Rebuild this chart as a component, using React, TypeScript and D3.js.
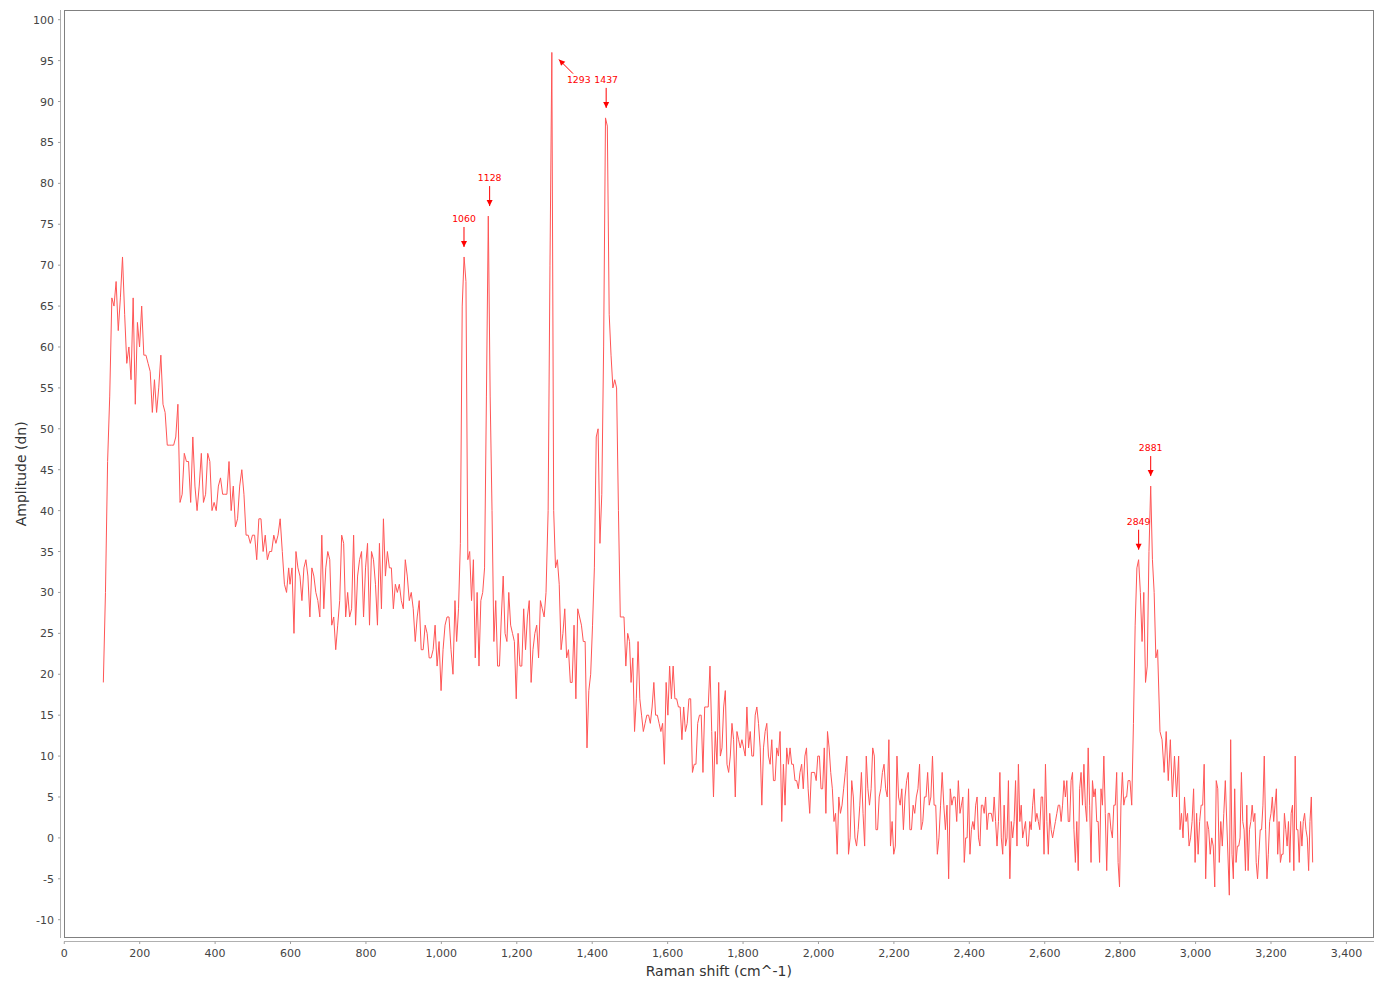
import { useEffect, useRef } from "react";
import * as d3 from "d3";

// Amplitude (dn), one array per stretch of Raman shift.
// Each stretch is sampled evenly between its start and end shift below.
const ampA = [
  19, 30, 46, 54, 66, 65, 68, 62, 66, 71, 64, 58, 60, 56, 66, 53, 63, 60, 65, 59,
  59, 58, 57, 52, 56, 52, 55, 59, 53, 52, 48, 48, 48, 48, 49, 53, 41, 42, 47, 46,
  46, 41, 49, 43, 40, 43, 47, 41, 42, 47, 46, 40, 41, 40, 43, 44, 42, 42, 42, 46,
  40, 43, 38, 39, 43, 45, 42, 37, 37, 36, 37, 37, 34, 39, 39, 35, 37, 34, 35, 35,
  37, 36, 37, 39, 35, 31, 30, 33,
];
const ampB = [
  31, 33, 25, 35, 33, 32, 29, 33, 34, 32, 27, 33, 32, 30, 29, 27, 37, 28, 33, 35,
  34, 26, 27, 23, 26, 29, 37, 36, 27, 30, 27, 28, 37, 26, 32, 34, 35, 27, 33, 36,
  26, 35, 34, 31, 26, 36, 28, 39, 32, 35, 33, 33, 28, 31, 30, 31, 29, 28, 34, 32,
  29, 30, 28, 24, 27, 29, 23, 23, 26, 25, 22, 22, 23, 26, 21, 24, 18, 23, 26, 27,
  27, 23, 20, 29,
];
const ampC = [
  24, 28, 36, 65, 71, 68, 34, 35, 29, 34, 22, 30, 21, 29, 30, 33, 54, 76, 54, 40,
  24, 29, 21, 21, 27, 32, 25, 24, 30, 26, 25, 24, 17, 25, 21, 21, 28, 23, 27, 29,
  19, 23, 25, 26, 22, 29, 28, 27, 30,
];
const ampD = [
  40, 70, 96, 40, 33, 34, 31, 23, 25, 28, 22, 23, 19, 19, 26, 17, 28, 27, 26, 24,
  24, 11, 18, 20, 26, 33, 49, 50, 36, 42, 60, 88, 87, 64, 59, 55, 56, 55, 40, 27,
  27, 27, 21, 25, 24,
];
const ampE1 = [
  19, 22, 13, 17, 24, 17, 15, 13, 14, 15, 15, 14, 16, 19, 15, 15, 14, 13, 14, 9,
  19, 15, 21, 17, 21, 17, 17, 16, 16, 12, 16, 13, 14, 17, 17, 8, 9, 9, 14, 15,
  15, 8, 16, 16, 16, 21, 13, 5, 13, 9,
];
const ampE2 = [
  19, 10, 11, 16, 18, 9, 8, 10, 14, 12, 5, 13, 12, 11, 12, 11, 10, 16, 11, 13,
  10, 10, 15, 16, 14, 11, 4, 11, 13, 14, 10, 9, 12, 7, 7, 11, 10, 13, 2, 9,
  4, 11, 9, 11, 9, 9, 7, 7, 6, 8,
];
const ampF = [
  9, 6, 10, 11, 6, 3, 8, 8, 8, 7, 10, 10, 6, 6, 11, 3, 13, 11, 8, 6,
  2, 3, -2, 5, 3, 4, 6, 8, 10, -2, 0, 7, 5, 0, -1, 1, 4, 8, 3, -1,
  10, 6, 4, 6, 11, 10, 1, 1, 5, 6, 8, 9, 6, 5, 12, -1, 2, -2, -1, 10,
  5, 4, 6, 1, 5, 7, 8, 1, 1, 4, 3, 5, 6, 9, 1, 2, 5, 5, 8, 4,
  5, 10, 4, 4, -2, 0, 4, 8, 4, 1, 4, -5, 6, 4, 5, 5, 2, 7,
];
const ampG = [
  3, 4, 5, -3, 0, 0, 6, -2, 1, 2, 1, 4, 5, 0, -1, 4, 4, 3, 5, 1,
  3, 3, 3, 2, 5, 2, -1, 2, 8, 0, -2, 4, -1, 0, 7, -5, 2, 0, 2, 7,
  -1, 9, 2, 4, 0, 1, 2, -1, -1, 2, 1, 4, 6, 2, 3, 2, 1, 5, 5, -2,
  9, 2, -2, 3, 1, 0, 1, 2, 3, 4, 4, 2, 4, 7, 5, 7, 2, 2, 7, 8,
  1, -3, 2, -4, 6, 8, 4, 9, 4, 2, 11, 4, -3, 7, 5, 6, 2, 2, -3, 6,
  4, 10, 3, -4, 3, 3, 1, 0, 4, 4, 8, -3, -6, 4, 8, 4, 5, 5, 7,
];
const ampH = [7, 4, 14, 26, 33, 34, 30, 24, 30, 19, 21, 35, 43, 34, 30, 22, 23];
const ampI1 = [13, 12, 8, 13, 7, 12, 5, 10, 5, 10];
const ampI2 = [
  1, 3, 0, 5, 2, 3, -1, 0, 2, 6, -3, 3, -2, 2, 4, 4, 9, -5, 2, 1,
  -2, 0, -1, -6, 7, 6, -3, 2, -1, 3, 7,
];
const ampI3 = [
  -7, 12, -2, -5, 6, -3, -1, -1, 0, 8, 2, 1, -4, 4, -4, 1, 2, 4, 2, 3,
  -3, -5, -2, 1, 1, 4, 10, 1, -5, -2, 2, 3, 5, 2, 4, 6, -2, 2, -3, -2,
  -2, 3, 1, -1, 2, -3, 3, 4, -4, 10, 1, 1, -3, 2, -1, 2, 3, 1, 0, -4,
  2, 5, -3,
];

const segmentAmps = [ampA, ampB, ampC, ampD, ampE1, ampE2, ampF, ampG, ampH, ampI1, ampI2, ampI3];
// Raman shift (cm^-1) of the first and last sample of each stretch
const segmentStart = [103.6, 598.6, 1040.5, 1283.1, 1503, 1735.4, 1955.4, 2375.3, 2826.1, 2905.6, 2958.7, 3089.5];
const segmentEnd = [595.1, 1036.1, 1277.5, 1499, 1730.9, 1951.0, 2370.9, 2821, 2899.3, 2955.1, 3078.9, 3310.5];

// Labelled peaks
const peakShifts = [1060, 1128, 1293, 1437, 2849, 2881];
const peakAmps = [71, 76, 96, 88, 34, 43];
const peakAngles = [-90, -90, 45, -90, -90, -90];

const xTickValues = [0, 200, 400, 600, 800, 1000, 1200, 1400, 1600, 1800, 2000, 2200, 2400, 2600, 2800, 3000, 3200, 3400];
const yTickValues = [-10, -5, 0, 5, 10, 15, 20, 25, 30, 35, 40, 45, 50, 55, 60, 65, 70, 75, 80, 85, 90, 95, 100];

export default function App() {
  const svgRef = useRef<SVGSVGElement>(null);

  useEffect(() => {
    if (!svgRef.current) return;
    const svg = d3.select(svgRef.current);
    svg.selectAll("*").remove();

    const font = "'DejaVu Sans', sans-serif";
    const left = 64.3, right = 1373.3, top = 10.3, bottom = 937.3;

    const x = d3.scaleLinear().domain([0, 3471.3]).range([64.27, right]);
    const y = d3.scaleLinear().domain([-12.15, 101.15]).range([bottom, top]);

    const points: [number, number][] = segmentAmps.flatMap((amps, s) => {
      const shiftAt = d3.scaleLinear().domain([0, amps.length - 1]).range([segmentStart[s], segmentEnd[s]]);
      return amps.map((a, i) => [shiftAt(i), a] as [number, number]);
    });

    svg.append("rect").attr("width", 1385).attr("height", 987).attr("fill", "#fff");

    svg.append("defs").append("clipPath").attr("id", "plot-clip")
      .append("rect")
      .attr("x", left).attr("y", top)
      .attr("width", right - left).attr("height", bottom - top);

    // plot outline
    svg.append("rect")
      .attr("x", 64.5).attr("y", 10.5)
      .attr("width", 1309).attr("height", 927)
      .attr("fill", "none")
      .attr("stroke", "#808080");

    // axis lines
    svg.append("line")
      .attr("x1", 60.5).attr("x2", 60.5).attr("y1", 10).attr("y2", 938)
      .attr("stroke", "#b0b0b0");
    svg.append("line")
      .attr("x1", 64).attr("x2", 1374).attr("y1", 941.5).attr("y2", 941.5)
      .attr("stroke", "#b0b0b0");

    // y ticks
    const yt = svg.append("g");
    yTickValues.forEach(v => {
      const py = y(v);
      yt.append("line")
        .attr("x1", 58).attr("x2", 60.5).attr("y1", py).attr("y2", py)
        .attr("stroke", "#a0a0a0");
      yt.append("text")
        .attr("x", 54).attr("y", py + 4)
        .attr("text-anchor", "end")
        .attr("font-family", font).attr("font-size", 11)
        .attr("fill", "#444")
        .text(v);
    });

    // x ticks
    const fmt = d3.format(",");
    const xt = svg.append("g");
    xTickValues.forEach(v => {
      const px = x(v);
      xt.append("line")
        .attr("x1", px).attr("x2", px).attr("y1", 941.5).attr("y2", 944)
        .attr("stroke", "#a0a0a0");
      xt.append("text")
        .attr("x", px).attr("y", 956.7)
        .attr("text-anchor", "middle")
        .attr("font-family", font).attr("font-size", 11)
        .attr("fill", "#444")
        .text(fmt(v));
    });

    // axis titles
    svg.append("text")
      .attr("x", (left + right) / 2).attr("y", 976)
      .attr("text-anchor", "middle")
      .attr("font-family", font).attr("font-size", 14)
      .attr("fill", "#333")
      .text("Raman shift (cm^-1)");
    svg.append("text")
      .attr("transform", `translate(26,${(top + bottom) / 2}) rotate(-90)`)
      .attr("text-anchor", "middle")
      .attr("font-family", font).attr("font-size", 14)
      .attr("fill", "#333")
      .text("Amplitude (dn)");

    // spectrum
    const line = d3.line<[number, number]>()
      .x(d => x(d[0]))
      .y(d => y(d[1]));

    svg.append("path")
      .datum(points)
      .attr("clip-path", "url(#plot-clip)")
      .attr("fill", "none")
      .attr("stroke", "#ff5555")
      .attr("stroke-width", 1)
      .attr("stroke-linejoin", "round")
      .attr("d", line);

    // peak pointers
    const ann = svg.append("g");
    peakShifts.forEach((shift, i) => {
      const px = x(shift), py = y(peakAmps[i]);
      const a = (peakAngles[i] * Math.PI) / 180;
      const dx = Math.cos(a), dy = Math.sin(a);
      const tipX = px + 10 * dx, tipY = py + 10 * dy;
      const baseX = px + 30 * dx, baseY = py + 30 * dy;
      ann.append("line")
        .attr("x1", baseX).attr("y1", baseY)
        .attr("x2", tipX).attr("y2", tipY)
        .attr("stroke", "#ff0000").attr("stroke-width", 1);
      const backX = tipX + 6 * dx, backY = tipY + 6 * dy;
      const perpX = -dy * 3, perpY = dx * 3;
      ann.append("path")
        .attr("d", `M${tipX},${tipY}L${backX + perpX},${backY + perpY}L${backX - perpX},${backY - perpY}Z`)
        .attr("fill", "#ff0000");
      ann.append("text")
        .attr("x", px + 38 * dx).attr("y", py + 38 * dy + 3.4)
        .attr("text-anchor", "middle")
        .attr("font-family", font).attr("font-size", 9.3)
        .attr("fill", "#ff0000")
        .text(String(shift));
    });
  }, []);

  return (
    <div style={{ position: "absolute", left: 0, top: 0 }}>
      <svg ref={svgRef} width={1385} height={987} style={{ display: "block" }}></svg>
    </div>
  );
}
